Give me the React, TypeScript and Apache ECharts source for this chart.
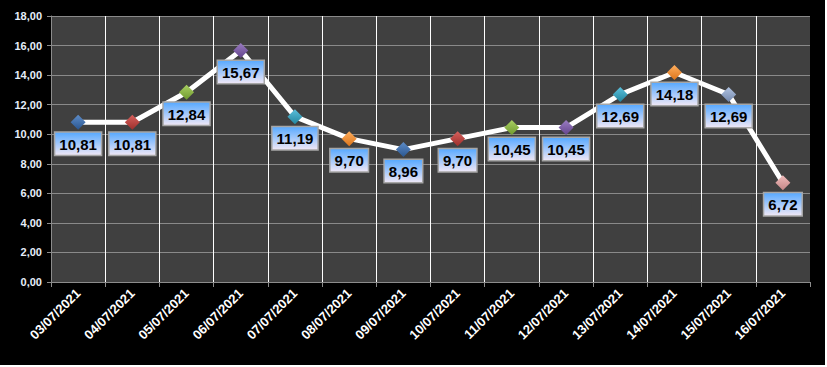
import React, { useEffect, useRef } from "react";
import * as echarts from "echarts";

const categories = [
  "03/07/2021", "04/07/2021", "05/07/2021", "06/07/2021", "07/07/2021",
  "08/07/2021", "09/07/2021", "10/07/2021", "11/07/2021", "12/07/2021",
  "13/07/2021", "14/07/2021", "15/07/2021", "16/07/2021",
];
const values = [10.81, 10.81, 12.84, 15.67, 11.19, 9.7, 8.96, 9.7, 10.45, 10.45, 12.69, 14.18, 12.69, 6.72];
const markerColors = [
  ["#5d8cc8", "#2a5690"],
  ["#d8605c", "#9c2f2c"],
  ["#a9cf62", "#6f9a2e"],
  ["#9a7cc2", "#63448c"],
  ["#5cc0dc", "#23869f"],
  ["#ffae5e", "#db741a"],
  ["#5d8cc8", "#2a5690"],
  ["#d8605c", "#9c2f2c"],
  ["#a9cf62", "#6f9a2e"],
  ["#9a7cc2", "#63448c"],
  ["#5cc0dc", "#23869f"],
  ["#ffae5e", "#db741a"],
  ["#b0c2e0", "#7489ae"],
  ["#f0bcbc", "#c48686"],
];
const yTicks = { min: 0, max: 18, interval: 2 };

export default function App() {
  const ref = useRef<HTMLDivElement>(null);
  useEffect(() => {
    if (!ref.current) return;
    const chart = echarts.init(ref.current, undefined, { renderer: "svg" });
    const font = "'Liberation Sans', Arial, sans-serif";
    chart.setOption({
      animation: false,
      backgroundColor: "#000000",
      grid: {
        left: 51,
        top: 16,
        width: 759,
        height: 266,
        show: true,
        backgroundColor: "#404040",
        borderWidth: 0,
      },
      xAxis: {
        type: "category",
        data: categories,
        boundaryGap: true,
        axisLine: { show: true, lineStyle: { color: "#8c8c8c", width: 1 } },
        axisTick: { show: true, length: 5, lineStyle: { color: "#8c8c8c" } },
        splitLine: {
          show: true,
          showMinLine: false,
          showMaxLine: false,
          lineStyle: { color: "#ffffff", width: 1 },
        },
        axisLabel: {
          rotate: 45,
          interval: 0,
          margin: 9,
          color: "#ffffff",
          fontWeight: "bold",
          fontSize: 13,
          fontFamily: font,
        },
      },
      yAxis: {
        type: "value",
        min: yTicks.min,
        max: yTicks.max,
        interval: yTicks.interval,
        axisLine: { show: true, lineStyle: { color: "#8c8c8c", width: 1 } },
        axisTick: { show: true, length: 4, lineStyle: { color: "#8c8c8c" } },
        splitLine: { show: true, lineStyle: { color: "#8a8a8a", width: 1 } },
        axisLabel: {
          margin: 9,
          color: "#e6eefa",
          fontWeight: "bold",
          fontSize: 11,
          fontFamily: font,
          formatter: (v: number) => v.toFixed(2).replace(".", ","),
        },
      },
      series: [
        {
          type: "line",
          data: values.map((v, i) => ({
            value: v,
            itemStyle: {
              color: new echarts.graphic.LinearGradient(0, 0, 0, 1, [
                { offset: 0, color: markerColors[i][0] },
                { offset: 1, color: markerColors[i][1] },
              ]),
              borderWidth: 0,
            },
          })),
          symbol: "diamond",
          symbolSize: 15,
          showAllSymbol: true,
          lineStyle: { color: "#ffffff", width: 5 },
          label: {
            show: true,
            position: "bottom",
            distance: 3,
            formatter: (p: any) => p.value.toFixed(2).replace(".", ","),
            color: "#000000",
            fontWeight: "bold",
            fontSize: 15,
            fontFamily: font,
            padding: [4, 4, 3, 4],
            borderColor: "#a6a6a6",
            borderWidth: 1.5,
            backgroundColor: new echarts.graphic.LinearGradient(0, 0, 0, 1, [
              { offset: 0, color: "#5aaaff" },
              { offset: 1, color: "#ece6f6" },
            ]),
          },
        },
      ],
    });
    return () => chart.dispose();
  }, []);
  return (
    <div
      ref={ref}
      style={{ position: "fixed", left: 0, top: 0, width: 825, height: 365 }}
    />
  );
}
